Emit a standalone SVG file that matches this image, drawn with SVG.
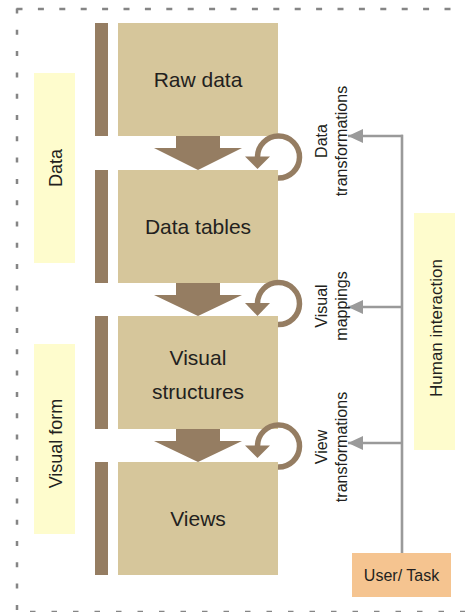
<svg xmlns="http://www.w3.org/2000/svg" width="465" height="612" viewBox="0 0 465 612">
<style>
.box{fill:#D6C69B}
.bar{fill:#957D62}
.lbl{fill:#FEFCCD}
.t{font-family:"Liberation Sans",Arial,sans-serif;fill:#231F20;text-anchor:middle}
.b{font-size:21px}
.s{font-size:16px}
.border{stroke:#858585;stroke-width:2.5;fill:none}
.loop{fill:none;stroke:#957D62;stroke-width:5.5}
.gl{stroke:#9A9A9A;stroke-width:2.6;fill:none}
</style>
<defs>
<marker id="ah" markerWidth="15" markerHeight="14" refX="15" refY="7" orient="auto" markerUnits="userSpaceOnUse">
<path d="M0,0 L15,7 L0,14 Z" fill="#9A9A9A"/>
</marker>
</defs>

<g id="border">
<line class="border" x1="16.5" y1="9" x2="452" y2="9" stroke-dasharray="6 15.4"/>
<line class="border" x1="17" y1="8.5" x2="17" y2="612" stroke-dasharray="5 16.3"/>
<line class="border" x1="30" y1="612" x2="465" y2="612" stroke-dasharray="5.5 16"/>
</g>

<g id="label-data">
<rect class="lbl" x="34" y="73" width="41" height="190"/>
<text class="t" font-size="18" transform="translate(62,168) rotate(-90)">Data</text>
</g>
<g id="label-visual-form">
<rect class="lbl" x="34" y="344" width="41" height="190"/>
<text class="t" font-size="18" transform="translate(62,443.5) rotate(-90)">Visual form</text>
</g>
<g id="label-human">
<rect class="lbl" x="414" y="213" width="41" height="237"/>
<text class="t" font-size="17" transform="translate(442,328) rotate(-90)">Human interaction</text>
</g>

<g id="raw-data">
<rect class="bar" x="95" y="23" width="13" height="113"/>
<rect class="box" x="118" y="23" width="160" height="113"/>
<text class="t b" x="198" y="86.5">Raw data</text>
</g>
<g id="data-tables">
<rect class="bar" x="95" y="170" width="13" height="113"/>
<rect class="box" x="118" y="170" width="160" height="113"/>
<text class="t b" x="198" y="233.5">Data tables</text>
</g>
<g id="visual-structures">
<rect class="bar" x="95" y="316" width="13" height="113"/>
<rect class="box" x="118" y="316" width="160" height="113"/>
<text class="t b" x="198" y="365">Visual</text>
<text class="t b" x="198" y="399">structures</text>
</g>
<g id="views">
<rect class="bar" x="95" y="462" width="13" height="113"/>
<rect class="box" x="118" y="462" width="160" height="113"/>
<text class="t b" x="198" y="526">Views</text>
</g>
<g id="user-task">
<rect x="352" y="553" width="99" height="44" fill="#F5C490"/>
<text class="t s" x="401.5" y="581">User/ Task</text>
</g>

<g id="connectors">
<path class="bar" d="M176,136 H220 V148 H242 L198,170 L154,148 H176 Z"/>
<path class="bar" d="M176,283 H220 V295 H242 L198,316 L154,295 H176 Z"/>
<path class="bar" d="M176,429 H220 V441 H242 L198,462 L154,441 H176 Z"/>

<path class="loop" d="M278,178 A21,21 0 1 0 257.5,157"/>
<path class="bar" d="M245,156.5 H270 L257.5,169 Z"/>
<path class="loop" d="M278,324.5 A21,21 0 1 0 257.5,303.5"/>
<path class="bar" d="M245,303 H270 L257.5,316 Z"/>
<path class="loop" d="M278,467 A21,21 0 1 0 257.5,446"/>
<path class="bar" d="M245,445.5 H270 L257.5,458 Z"/>

<path class="gl" d="M402,553 V134.7"/>
<line class="gl" x1="403" y1="136" x2="348" y2="136" marker-end="url(#ah)"/>
<line class="gl" x1="403" y1="307" x2="348" y2="307" marker-end="url(#ah)"/>
<line class="gl" x1="403" y1="443" x2="348" y2="443" marker-end="url(#ah)"/>

<text class="t s" transform="translate(327,141) rotate(-90)">Data</text>
<text class="t s" transform="translate(347,141) rotate(-90)">transformations</text>
<text class="t s" transform="translate(327,306) rotate(-90)">Visual</text>
<text class="t s" transform="translate(347,306) rotate(-90)">mappings</text>
<text class="t s" transform="translate(327,447) rotate(-90)">View</text>
<text class="t s" transform="translate(347,447) rotate(-90)">transformations</text>
</g>
</svg>
